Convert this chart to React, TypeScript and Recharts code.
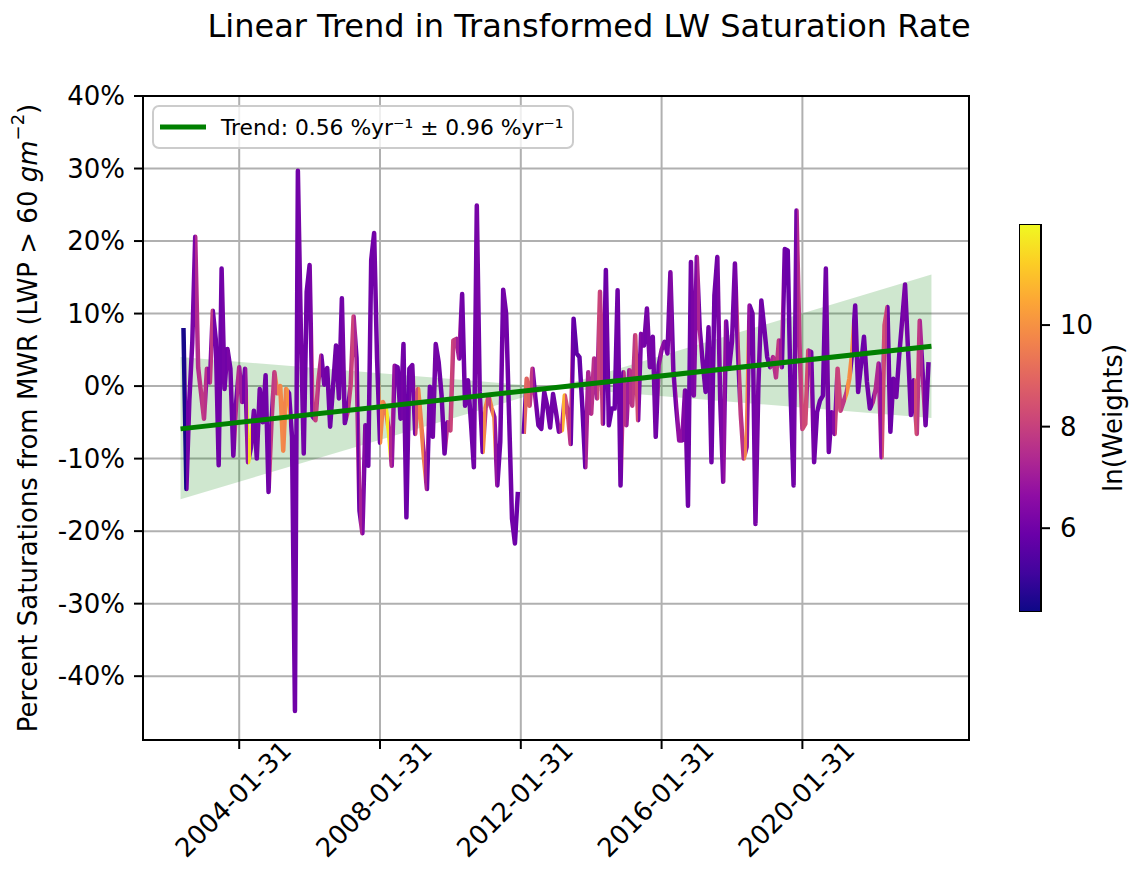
import {
  Area,
  Bar,
  BarChart,
  CartesianGrid,
  ComposedChart,
  Line,
  ReferenceArea,
  XAxis,
  YAxis,
} from 'recharts';

const FONT = '"DejaVu Sans", sans-serif';

// monthly series, first point is 2002-06 (month end)
const START_YEAR = 2002;
const START_MONTH = 6;

const satValues: (number | null)[] = [
  8.0, -14.2, -2.0, 6.0, 20.6, 2.6, -1.0, -4.5, 2.4, 0.5,
  10.4, 6.5, -10.9, 16.2, -0.4, 5.1, 2.4, -9.6, -2.0, 2.6,
  -2.2, 2.4, -10.5, -8.5, -3.4, -10.0, -0.4, -5.0, 1.5, -14.6,
  -5.0, 1.9, -1.0, 0.0, -8.9, -0.4, -1.0, -7.0, -44.8, 29.7,
  8.0, -9.3, 13.0, 16.7, -4.2, -4.7, 0.7, 4.2, 0.2, 2.5,
  -5.6, 0.0, 5.6, -1.7, 12.1, -5.1, -3.5, 0.2, 9.6, 3.9,
  -17.2, -20.3, -5.4, -11.0, 17.4, 21.1, 3.7, -7.8, -2.2, -3.2,
  -6.1, -11.0, 2.8, 2.6, -4.5, 5.8, -18.1, 2.4, 2.9, -6.6,
  -0.4, -5.0, -10.0, -14.2, -0.1, -7.0, 5.8, 3.3, -1.3, -9.3,
  -5.0, -6.1, 6.3, 6.5, 3.8, 12.7, -2.7, 0.8, -5.0, -11.2,
  24.9, -0.8, -9.1, -3.0, -1.3, -3.0, -4.3, -13.7, -7.7, 13.3,
  10.0, -4.0, -18.3, -21.7, -14.6, null, -6.6, 1.0, -2.7, 2.4,
  -1.7, -5.4, -5.9, -0.8, -2.7, -5.7, -1.1, -3.6, -6.3, -6.1,
  -1.3, -3.6, -8.0, 9.3, 4.5, 4.0, -3.0, -11.2, 1.9, -3.8,
  3.8, -1.7, 13.0, -5.2, 16.0, -5.4, -3.1, -3.1, 13.2, -13.7,
  1.9, -5.4, 2.2, -2.7, 7.0, -4.7, 7.2, 5.6, 10.7, 2.6,
  6.8, -7.0, 2.9, 5.0, 6.1, 4.5, 15.7, 2.2, -3.0, -7.5,
  -7.5, -0.6, -16.5, 17.1, -1.3, 17.8, 7.9, 3.3, -0.8, 8.1,
  -10.5, 12.5, 17.8, -2.2, -13.2, 8.9, 2.4, 6.1, 16.9, 5.0,
  -4.0, -10.0, -8.4, 11.1, 10.0, -19.0, 0.1, 11.8, 8.0, 4.0,
  2.6, 4.0, 1.2, 6.3, 2.6, 18.9, 18.7, -1.3, -13.7, 24.2,
  6.0, -5.9, -5.2, 4.9, 4.7, -10.5, -3.6, -2.0, -1.3, 16.2,
  -9.1, -3.6, -6.6, 2.4, -3.4, -2.2, -1.0, 1.0, 4.7, 11.1,
  -0.8, 3.0, 6.8, 0.6, -3.1, -2.2, -0.4, 3.1, -9.8, 8.4,
  10.9, -6.3, 1.0, -1.5, 4.2, 9.0, 14.0, 5.1, -4.0, 0.8,
  -6.6, 9.0, 1.9, -5.4, 3.3,
];

// ln(weights) of each point, colours the segment that starts there
const lnWeights = [
  4.5, 6.0, 6.1, 6.2, 7.4, 7.6, 7.8, 7.6, 6.6, 7.8,
  6.1, 6.0, 6.0, 6.1, 6.0, 6.2, 6.0, 6.1, 7.4, 7.0,
  6.1, 6.8, 11.4, 6.1, 6.0, 6.1, 6.0, 6.0, 6.0, 6.1,
  7.8, 8.0, 9.6, 9.8, 9.7, 10.0, 6.0, 6.0, 6.0, 6.1,
  6.1, 6.0, 6.0, 6.2, 7.8, 8.0, 7.6, 6.1, 6.0, 6.0,
  6.0, 6.0, 6.0, 6.0, 6.1, 6.1, 7.8, 8.1, 7.3, 6.0,
  7.2, 6.4, 6.0, 6.0, 6.0, 6.1, 6.0, 9.8, 9.5, 11.6,
  7.4, 6.8, 6.1, 6.0, 6.1, 6.0, 5.9, 6.1, 6.1, 8.3,
  9.7, 9.5, 7.2, 6.0, 6.0, 6.1, 6.1, 6.0, 6.0, 6.0,
  7.6, 8.1, 7.8, 7.0, 6.1, 6.0, 6.0, 6.0, 6.0, 6.1,
  6.2, 6.0, 9.8, 8.0, 7.8, 9.6, 6.8, 6.1, 6.0, 6.1,
  6.0, 6.0, 6.0, 5.9, 5.9, 5.9, 9.0, 8.8, 7.8, 6.8,
  6.0, 6.0, 6.0, 6.0, 6.0, 6.0, 6.0, 6.1, 7.2, 10.6,
  8.3, 7.6, 5.9, 5.7, 5.7, 5.8, 5.9, 7.2, 7.3, 7.6,
  7.3, 8.1, 7.8, 5.9, 6.0, 5.9, 5.9, 6.0, 6.0, 6.0,
  7.6, 7.0, 7.6, 7.8, 8.3, 6.4, 6.2, 6.1, 6.2, 6.1,
  6.1, 6.0, 6.8, 6.4, 6.1, 6.2, 6.4, 6.0, 6.7, 6.7,
  6.3, 6.0, 6.0, 6.2, 6.4, 7.3, 6.1, 6.0, 6.0, 6.1,
  6.0, 6.0, 6.2, 6.3, 6.7, 6.1, 6.1, 6.1, 6.2, 7.8,
  7.6, 9.6, 6.8, 6.0, 6.1, 6.2, 6.1, 6.0, 6.0, 6.0,
  7.3, 7.6, 7.8, 7.0, 6.0, 5.9, 5.9, 6.0, 6.1, 7.3,
  7.8, 8.2, 8.3, 7.0, 6.1, 6.0, 6.0, 5.9, 6.0, 6.1,
  6.0, 6.5, 8.0, 8.1, 7.8, 7.8, 10.0, 9.8, 6.0, 6.0,
  6.0, 5.9, 6.0, 6.0, 6.0, 7.4, 7.3, 6.7, 8.3, 7.8,
  6.0, 5.9, 6.0, 6.0, 6.0, 6.2, 6.1, 6.0, 6.1, 8.3,
  7.8, 7.3, 6.1, 6.0, 6.1,
];

// fitted trend and its uncertainty fan, at start / middle / end of the fit period
const trendDates = ['2002-05-31', '2013-01-31', '2023-09-30'];
const trendValues = [-5.9, -0.2, 5.5];
const bandLow = [-15.6, -0.2, -4.4];
const bandHigh = [4.0, -0.2, 15.4];

const xTickLabels = ['2004-01-31', '2008-01-31', '2012-01-31', '2016-01-31', '2020-01-31'];
const yTicks = [-40, -30, -20, -10, 0, 10, 20, 30, 40];
const cbTicks = [6, 8, 10];
const W_MIN = 4.35;
const W_MAX = 11.99;
const Y_MIN = -48.8;
const Y_MAX = 40;

const PLASMA = ['#0d0887', '#41049d', '#6a00a8', '#8f0da4', '#b12a90', '#cc4778', '#e16462', '#f2844b', '#fca636', '#fcce25', '#f0f921'];

function hexToRgb(h: string) {
  return [1, 3, 5].map((i) => parseInt(h.slice(i, i + 2), 16));
}

function plasma(t: number) {
  const c = Math.max(0, Math.min(1, t)) * 10;
  const i = Math.min(9, Math.floor(c));
  const f = c - i;
  const a = hexToRgb(PLASMA[i]);
  const b = hexToRgb(PLASMA[i + 1]);
  const m = a.map((v, k) => Math.round(v + (b[k] - v) * f));
  return `rgb(${m[0]},${m[1]},${m[2]})`;
}

const toYear = (monthOffset: number) => START_YEAR + (START_MONTH + monthOffset) / 12;
const labelToYear = (s: string) => Number(s.slice(0, 4)) + Number(s.slice(5, 7)) / 12;

const seriesData = satValues.map((v, i) => ({ t: toYear(i), sat: v }));
const tFirst = seriesData[0].t;
const tLast = seriesData[seriesData.length - 1].t;

const trendT = trendDates.map(labelToYear);
const pad = (trendT[2] - trendT[0]) * 0.05;
const X_MIN = trendT[0] - pad;
const X_MAX = trendT[2] + pad;

const trendData = trendT.map((t, i) => ({ t, trend: trendValues[i] }));
const bandData = trendT.map((t, i) => ({ t, band: [bandLow[i], bandHigh[i]] }));
const xTicks = xTickLabels.map(labelToYear);
const colorbarData = [{ name: 'cb', range: [W_MIN, W_MAX] }];

// hard-stop gradient along x: one colour per segment
const gradStops: { offset: number; color: string }[] = [];
for (let i = 0; i < seriesData.length - 1; i++) {
  const color = plasma((lnWeights[i] - W_MIN) / (W_MAX - W_MIN));
  const o1 = (seriesData[i].t - tFirst) / (tLast - tFirst);
  const o2 = (seriesData[i + 1].t - tFirst) / (tLast - tFirst);
  gradStops.push({ offset: o1, color }, { offset: o2, color });
}

function DateTick({ x, y, payload }: any) {
  const idx = xTicks.findIndex((v) => Math.abs(v - payload.value) < 1e-6);
  const cx = x - 6;
  const cy = y + 50;
  return (
    <text x={cx} y={cy} textAnchor="middle" dominantBaseline="central" transform={`rotate(-45 ${cx} ${cy})`} fontSize={26} fontFamily={FONT} fill="#000">
      {idx >= 0 ? xTickLabels[idx] : ''}
    </text>
  );
}

function YLabel({ viewBox }: any) {
  const cx = (viewBox?.x ?? 0) + 28;
  const cy = (viewBox?.y ?? 0) + (viewBox?.height ?? 0) / 2;
  return (
    <text x={cx} y={cy} transform={`rotate(-90 ${cx} ${cy})`} textAnchor="middle" dominantBaseline="central" fontSize={26} fontFamily={FONT} fill="#000">
      Percent Saturations from MWR (LWP &gt; 60 <tspan fontStyle="italic">gm</tspan>
      <tspan dy={-11} fontSize={18}>−2</tspan>
      <tspan dy={11}>)</tspan>
    </text>
  );
}

function CbLabel({ viewBox }: any) {
  const cx = (viewBox?.x ?? 0) + 72;
  const cy = (viewBox?.y ?? 0) + (viewBox?.height ?? 0) / 2;
  return (
    <text x={cx} y={cy} transform={`rotate(-90 ${cx} ${cy})`} textAnchor="middle" dominantBaseline="central" fontSize={26} fontFamily={FONT} fill="#000">
      ln(Weights)
    </text>
  );
}

export default function App() {
  return (
    <div style={{ position: 'absolute', left: 0, top: 0, width: 1133, height: 882, background: '#fff' }}>
      <ComposedChart width={1133} height={882} margin={{ top: 96, right: 164, bottom: 0, left: 0 }}>
        <defs>
          <linearGradient id="weightGrad" x1="0" y1="0" x2="1" y2="0">
            {gradStops.map((s, i) => (
              <stop key={i} offset={s.offset} stopColor={s.color} />
            ))}
          </linearGradient>
        </defs>
        <CartesianGrid stroke="#b0b0b0" strokeWidth={2} />
        <XAxis
          type="number"
          dataKey="t"
          domain={[X_MIN, X_MAX]}
          ticks={xTicks}
          interval={0}
          allowDataOverflow
          height={142}
          tickSize={9}
          tickMargin={0}
          tick={<DateTick />}
          axisLine={{ stroke: '#000', strokeWidth: 2 }}
          tickLine={{ stroke: '#000', strokeWidth: 2 }}
        />
        <YAxis
          type="number"
          domain={[Y_MIN, Y_MAX]}
          ticks={yTicks}
          interval={0}
          allowDataOverflow
          width={143}
          tickSize={9}
          tickMargin={9}
          tickFormatter={(v: number) => `${v}%`}
          tick={{ fontSize: 26, fill: '#000', fontFamily: FONT }}
          axisLine={{ stroke: '#000', strokeWidth: 2 }}
          tickLine={{ stroke: '#000', strokeWidth: 2 }}
          label={{ content: YLabel }}
        />
        <Area data={bandData} dataKey="band" type="linear" stroke="none" fill="#008000" fillOpacity={0.19} isAnimationActive={false} />
        <Line
          data={seriesData}
          dataKey="sat"
          type="linear"
          stroke="url(#weightGrad)"
          strokeWidth={4.5}
          strokeLinejoin="round"
          dot={false}
          activeDot={false}
          connectNulls={false}
          isAnimationActive={false}
        />
        <Line data={trendData} dataKey="trend" type="linear" stroke="#008000" strokeWidth={5} dot={false} activeDot={false} isAnimationActive={false} />
        <ReferenceArea x1={X_MIN} x2={X_MAX} y1={Y_MIN} y2={Y_MAX} fill="none" stroke="#000" strokeWidth={2} />
        <text x={589} y={37} textAnchor="middle" fontSize={32} fontFamily={FONT} fill="#000">
          Linear Trend in Transformed LW Saturation Rate
        </text>
        <g>
          <rect x={153} y={106} width={420} height={42} rx={6} fill="#fff" fillOpacity={0.8} stroke="#cccccc" strokeWidth={2} />
          <line x1={160} x2={206} y1={127} y2={127} stroke="#008000" strokeWidth={5} />
          <text x={221} y={127} dominantBaseline="central" fontSize={21.8} fontFamily={FONT} fill="#000">
            Trend: 0.56 %yr⁻¹ ± 0.96 %yr⁻¹
          </text>
        </g>
      </ComposedChart>
      <div style={{ position: 'absolute', left: 1019, top: 222 }}>
        <BarChart width={140} height={392} data={colorbarData} margin={{ top: 2, right: 0, bottom: 2, left: 0 }} barCategoryGap={0}>
          <defs>
            <linearGradient id="plasmaV" x1="0" y1="1" x2="0" y2="0">
              {PLASMA.map((c, i) => (
                <stop key={c} offset={i / 10} stopColor={c} />
              ))}
            </linearGradient>
          </defs>
          <XAxis dataKey="name" hide />
          <YAxis
            orientation="right"
            type="number"
            domain={[W_MIN, W_MAX]}
            ticks={cbTicks}
            allowDataOverflow
            width={118}
            tickSize={9}
            tickMargin={10}
            axisLine={false}
            tick={{ fontSize: 26, fill: '#000', fontFamily: FONT }}
            tickLine={{ stroke: '#000', strokeWidth: 2 }}
            label={{ content: CbLabel }}
          />
          <Bar dataKey="range" fill="url(#plasmaV)" stroke="#000" strokeWidth={2} isAnimationActive={false} />
        </BarChart>
      </div>
    </div>
  );
}
